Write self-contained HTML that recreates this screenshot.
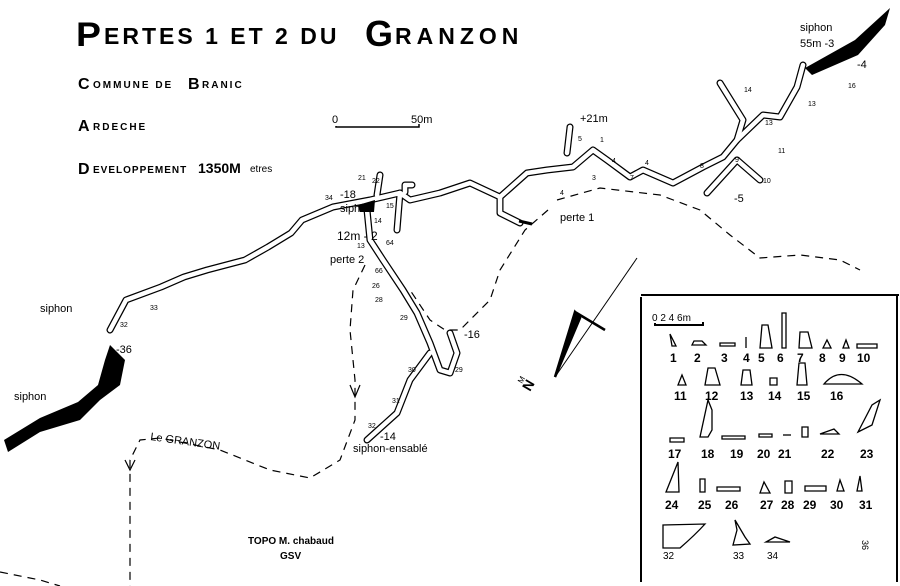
<!DOCTYPE html>
<html><head><meta charset="utf-8"><style>
body{margin:0;background:#fff;width:900px;height:586px;overflow:hidden}
svg{display:block}
text{font-family:"Liberation Sans",sans-serif;fill:#000}
.t{font-weight:bold;font-family:"Liberation Sans",sans-serif}
</style></head><body>
<svg width="900" height="586" viewBox="0 0 900 586">
<!-- Title -->
<text x="76" y="46" class="t" font-size="34" font-weight="900" transform="scale(1.1 1)" transform-origin="76 46">P</text>
<text x="104" y="44" class="t" font-size="23" font-weight="900" letter-spacing="3">ERTES 1 ET 2 DU</text>
<text x="365" y="46" class="t" font-size="36" font-weight="900">G</text>
<text x="395" y="44" class="t" font-size="23" font-weight="900" letter-spacing="5">RANZON</text>
<text x="78" y="89" class="t" font-size="16">C</text><text x="93" y="88" font-size="10" font-weight="bold" letter-spacing="2">OMMUNE DE</text>
<text x="188" y="89" class="t" font-size="16">B</text><text x="202" y="88" font-size="10" font-weight="bold" letter-spacing="2">RANIC</text>
<text x="78" y="131" class="t" font-size="16">A</text><text x="93" y="130" font-size="10" font-weight="bold" letter-spacing="2">RDECHE</text>
<text x="78" y="174" class="t" font-size="16">D</text><text x="93" y="173" font-size="10" font-weight="bold" letter-spacing="1">EVELOPPEMENT</text>
<text x="198" y="173" class="t" font-size="14">1350M</text><text x="250" y="172" font-size="10">etres</text>
<!-- scale -->
<text x="332" y="123" font-size="11">0</text><text x="411" y="123" font-size="11">50m</text>
<path d="M336 126 V127 H419 V124" stroke="#000" fill="none" stroke-width="1.5"/>
<!-- cave passages -->
<g fill="none" stroke="#000" stroke-width="7" stroke-linejoin="round" stroke-linecap="round">
<path d="M110 330 L126 300 161 287 184 277 207 270 245 260 268 247 291 233 302 220 333 207 370 200 400 193 410 200 440 193 470 183 500 197 527 173 547 170 573 167 593 150 607 160 630 177 643 170 673 183 703 167 723 157 737 140 763 115 780 117 797 87 803 65"/>
<path d="M737 140 L743 120 720 83"/><path d="M737 160 L707 193"/><path d="M737 160 L760 180"/>
<path d="M567 153 L570 127"/><path d="M500 197 L500 213 520 223"/><path d="M400 193 L397 230"/>
<path d="M367 210 L370 240 383 260 403 290 417 313 430 343 440 370 450 373 457 353 450 333"/>
<path d="M430 353 L410 380 397 413 367 440"/><path d="M377 195 L380 175"/><path d="M405 192 V185 H412"/>
</g>
<g fill="none" stroke="#fff" stroke-width="4.5" stroke-linejoin="round" stroke-linecap="round">
<path d="M110 330 L126 300 161 287 184 277 207 270 245 260 268 247 291 233 302 220 333 207 370 200 400 193 410 200 440 193 470 183 500 197 527 173 547 170 573 167 593 150 607 160 630 177 643 170 673 183 703 167 723 157 737 140 763 115 780 117 797 87 803 65"/>
<path d="M737 140 L743 120 720 83"/><path d="M737 160 L707 193"/><path d="M737 160 L760 180"/>
<path d="M567 153 L570 127"/><path d="M500 197 L500 213 520 223"/><path d="M400 193 L397 230"/>
<path d="M367 210 L370 240 383 260 403 290 417 313 430 343 440 370 450 373 457 353 450 333"/>
<path d="M430 353 L410 380 397 413 367 440"/><path d="M377 195 L380 175"/><path d="M405 192 V185 H412"/>
</g>
<!-- siphons black -->
<path d="M805 68 L855 40 890 8 885 25 858 55 812 75Z" fill="#000"/>
<path d="M358 205 L375 200 374 212 360 212Z" fill="#000"/>
<path d="M110 345 L125 360 120 385 100 400 80 420 40 432 8 452 4 440 40 418 78 402 98 385 105 360Z" fill="#000"/>
<path d="M519 221 L532 224" stroke="#000" stroke-width="3"/>
<!-- dashed rivers -->
<g fill="none" stroke="#000" stroke-width="1.2" stroke-dasharray="8 6">
<path d="M557 200 L600 188 660 195 700 210 730 235 760 258 800 255 840 260 860 270"/>
<path d="M548 210 L525 230 500 270 490 300 460 330 445 330 430 320 410 290"/>
<path d="M365 265 L353 290 350 330 355 380 355 420 340 460 310 478 270 470 220 450 160 438 140 440 130 460 130 586"/>
<path d="M0 572 L40 580 60 586"/>
</g>
<path d="M350 385 L355 397 360 385" fill="none" stroke="#000" stroke-width="1.2"/>
<path d="M125 460 L130 470 135 460" fill="none" stroke="#000" stroke-width="1.2"/>
<!-- north arrow -->
<path d="M637 258 L555 377" stroke="#000" stroke-width="1"/>
<path d="M555 377 L575 312 L580 318Z M575 312 L605 330" stroke="#000" stroke-width="2.5" fill="#000"/>
<text x="0" y="0" font-size="14" font-weight="bold" transform="translate(530,392) rotate(-60)">N</text>
<text x="0" y="0" font-size="8" transform="translate(522,384) rotate(-60)">M</text>
<!-- labels -->
<g font-size="11">
<text x="800" y="31">siphon</text><text x="800" y="47">55m -3</text>
<text x="580" y="122">+21m</text><text x="560" y="221">perte 1</text>
<text x="734" y="202">-5</text><text x="857" y="68">-4</text>
<text x="340" y="198">-18</text><text x="340" y="212">siphon</text>
<text x="337" y="240" font-size="12">12m - 2</text><text x="330" y="263">perte 2</text>
<text x="464" y="338">-16</text><text x="380" y="440">-14</text>
<text x="353" y="452">siphon-ensablé</text>
<text x="40" y="312">siphon</text><text x="14" y="400">siphon</text>
<text x="116" y="353">-36</text>
<text x="150" y="440" transform="rotate(8 150 440)">Le GRANZON</text>
<text x="248" y="544" font-weight="bold" font-size="10">TOPO M. chabaud</text>
<text x="280" y="559" font-weight="bold" font-size="10">GSV</text>
</g>
<g font-size="7">
<text x="325" y="200">34</text><text x="372" y="183">22</text><text x="358" y="180">21</text><text x="386" y="208">15</text>
<text x="374" y="223">14</text><text x="357" y="248">13</text><text x="386" y="245">64</text><text x="375" y="273">66</text>
<text x="372" y="288">26</text><text x="375" y="302">28</text><text x="400" y="320">29</text><text x="408" y="372">30</text>
<text x="392" y="403">31</text><text x="368" y="428">32</text><text x="455" y="372">29</text><text x="120" y="327">32</text><text x="150" y="310">33</text>
<text x="578" y="141">5</text><text x="600" y="142">1</text><text x="612" y="163">4</text><text x="645" y="165">4</text>
<text x="700" y="168">8</text><text x="735" y="162">9</text><text x="763" y="183">10</text><text x="778" y="153">11</text>
<text x="765" y="125">13</text><text x="808" y="106">13</text><text x="744" y="92">14</text><text x="848" y="88">16</text>
<text x="560" y="195">4</text><text x="630" y="180">7</text><text x="592" y="180">3</text>
</g>
<!-- cross section box -->
<path d="M641 297 V582 M641 295 H899 M897 295 V582" stroke="#000" stroke-width="2" fill="none"/>
<text x="652" y="321" font-size="10">0 2 4 6m</text>
<path d="M655 323 V325 H703 V322" stroke="#000" stroke-width="2" fill="none"/>
<g fill="none" stroke="#000" stroke-width="1.3">
<path d="M670 334 L676 346 672 346Z"/><path d="M692 345 H706 L702 341 H694Z"/><path d="M720 346 H735 V343 H720Z"/>
<path d="M746 337 V348"/><path d="M760 348 L762 325 L768 325 L772 348Z"/><path d="M782 348 V313 H786 V348Z"/>
<path d="M799 348 L800 332 L808 332 L812 348Z"/><path d="M823 348 L827 340 L831 348Z"/><path d="M843 348 L846 340 L849 348Z"/>
<path d="M857 344 H877 V348 H857Z"/><path d="M678 385 L682 375 L686 385Z"/><path d="M705 385 L708 368 L715 368 L720 385Z"/>
<path d="M741 385 L743 370 L750 370 L752 385Z"/><path d="M770 385 V378 H777 V385Z"/><path d="M797 385 L799 363 L805 363 L807 385Z"/>
<path d="M824 384 Q840 365 862 384Z"/><path d="M700 437 L708 400 L712 410 L712 430 L708 437Z"/><path d="M670 438 H684 V442 H670Z"/>
<path d="M722 436 H745 V439 H722Z"/><path d="M759 434 H772 V437 H759Z"/><path d="M783 435 H791"/><path d="M802 427 V437 H808 V427Z"/>
<path d="M820 434 H839 L834 429Z"/><path d="M858 432 L872 405 L880 400 L872 425Z"/><path d="M666 492 L678 462 L679 492Z"/>
<path d="M700 479 V492 H705 V479Z"/><path d="M717 487 H740 V491 H717Z"/><path d="M760 493 L764 482 L770 493Z"/><path d="M785 493 V481 H792 V493Z"/>
<path d="M805 486 H826 V491 H805Z"/><path d="M837 491 L840 480 L844 491Z"/><path d="M857 491 L860 476 L862 491Z"/>
<path d="M663 525 V548 H680 Q695 535 705 524Z"/><path d="M735 520 L745 537 L750 544 L733 545 L737 530Z"/><path d="M766 542 H790 L775 537Z"/>
</g>
<g font-size="12" font-weight="bold">
<text x="670" y="362">1</text><text x="694" y="362">2</text><text x="721" y="362">3</text><text x="743" y="362">4</text><text x="758" y="362">5</text>
<text x="777" y="362">6</text><text x="797" y="362">7</text><text x="819" y="362">8</text><text x="839" y="362">9</text><text x="857" y="362">10</text>
<text x="674" y="400">11</text><text x="705" y="400">12</text><text x="740" y="400">13</text><text x="768" y="400">14</text><text x="797" y="400">15</text><text x="830" y="400">16</text>
<text x="668" y="458">17</text><text x="701" y="458">18</text><text x="730" y="458">19</text><text x="757" y="458">20</text><text x="778" y="458">21</text><text x="821" y="458">22</text><text x="860" y="458">23</text>
<text x="665" y="509">24</text><text x="698" y="509">25</text><text x="725" y="509">26</text><text x="760" y="509">27</text><text x="781" y="509">28</text><text x="803" y="509">29</text><text x="830" y="509">30</text><text x="859" y="509">31</text>
<text x="663" y="559" font-weight="normal" font-size="10">32</text><text x="733" y="559" font-weight="normal" font-size="10">33</text><text x="767" y="559" font-weight="normal" font-size="10">34</text>
</g>
<text x="0" y="0" font-size="9" transform="translate(862,540) rotate(90)">36</text>
</svg>
</body></html>
